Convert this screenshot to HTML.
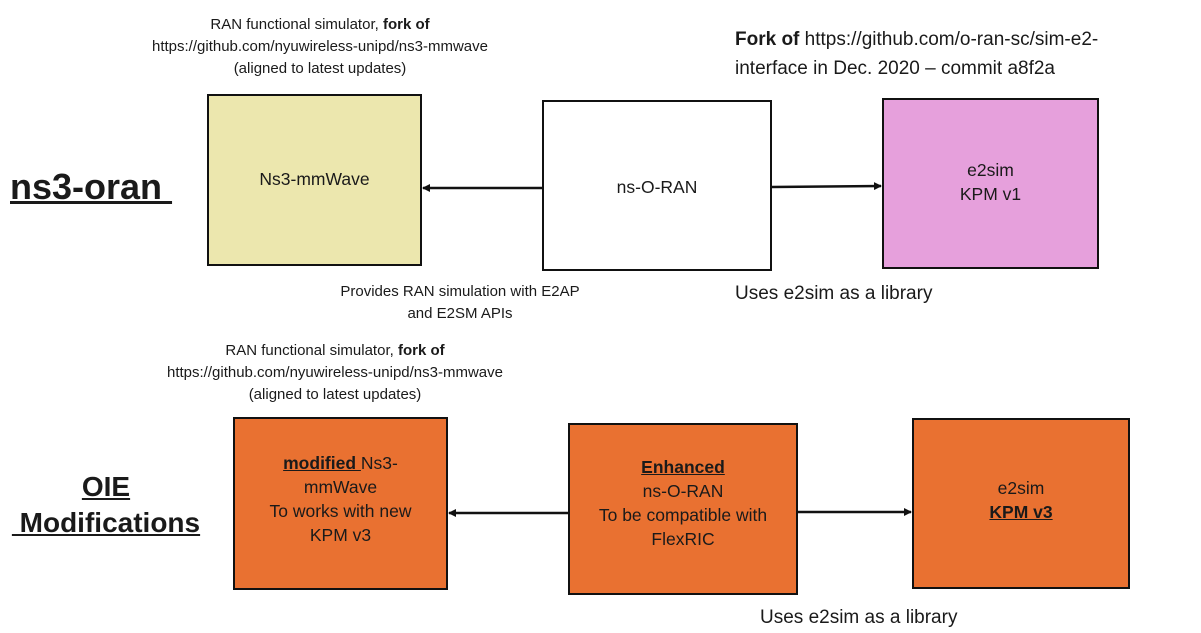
<!DOCTYPE html>
<html><head><meta charset="utf-8"><style>
body{margin:0;width:1201px;height:633px;background:#fff;position:relative;overflow:hidden;font-family:"Liberation Sans",sans-serif;color:#1a1a1a}
.a{position:absolute}
.box{position:absolute;box-sizing:border-box;border:2px solid #111;display:flex;align-items:center;justify-content:center;text-align:center;font-size:17.5px;line-height:24px}
.c{position:absolute;text-align:center;font-size:15px;line-height:22px}
</style></head><body>
<div class="c" style="left:100px;top:14px;width:440px">RAN functional simulator, <b>fork of</b><br>https://github.com/nyuwireless-unipd/ns3-mmwave<br>(aligned to latest updates)</div>
<div class="a" style="left:735px;top:25px;font-size:19px;line-height:29px">
<b>Fork of</b> https://github.com/o-ran-sc/sim-e2-<br>interface in Dec. 2020 – commit a8f2a</div>
<div class="a" style="left:10px;top:166px;font-size:36px;font-weight:bold;text-decoration:underline">ns3-oran&nbsp;</div>
<div class="box" style="left:207px;top:94px;width:215px;height:172px;background:#ece7ae;padding-bottom:2px">Ns3-mmWave</div>
<div class="box" style="left:542px;top:100px;width:230px;height:171px;background:#fff;padding-top:2px">ns-O-RAN</div>
<div class="box" style="left:882px;top:98px;width:217px;height:171px;background:#e6a0dc;padding-bottom:4px">e2sim<br>KPM v1</div>
<div class="c" style="left:290px;top:281px;width:340px">Provides RAN simulation with E2AP<br>and E2SM APIs</div>
<div class="a" style="left:735px;top:283px;font-size:19px">Uses e2sim as a library</div>
<div class="c" style="left:115px;top:340px;width:440px">RAN functional simulator, <b>fork of</b><br>https://github.com/nyuwireless-unipd/ns3-mmwave<br>(aligned to latest updates)</div>
<div class="a" style="left:0px;top:469px;width:212px;text-align:center;font-size:28px;line-height:36px;font-weight:bold;text-decoration:underline">OIE<br>&nbsp;Modifications</div>
<div class="box" style="left:233px;top:417px;width:215px;height:173px;background:#e97131;padding-bottom:10px"><div><b style="text-decoration:underline">modified </b>Ns3-<br>mmWave<br>To works with new<br>KPM v3</div></div>
<div class="box" style="left:568px;top:423px;width:230px;height:172px;background:#e97131;padding-bottom:12px"><div><b style="text-decoration:underline">Enhanced</b><br>ns-O-RAN<br>To be compatible with<br>FlexRIC</div></div>
<div class="box" style="left:912px;top:418px;width:218px;height:171px;background:#e97131;padding-bottom:8px"><div>e2sim<br><b style="text-decoration:underline">KPM v3</b></div></div>
<div class="a" style="left:760px;top:607px;font-size:19px">Uses e2sim as a library</div>
<svg class="a" style="left:0;top:0" width="1201" height="633">
<defs><marker id="m" markerWidth="8" markerHeight="8" refX="7" refY="4" orient="auto" markerUnits="userSpaceOnUse"><path d="M0,0 L8,4 L0,8 Z" fill="#111"/></marker></defs>
<g stroke="#111" stroke-width="2.5" marker-end="url(#m)">
<line x1="542" y1="188" x2="423" y2="188"/>
<line x1="772" y1="187" x2="881" y2="186"/>
<line x1="568" y1="513" x2="449" y2="513"/>
<line x1="798" y1="512" x2="911" y2="512"/>
</g></svg>
</body></html>
